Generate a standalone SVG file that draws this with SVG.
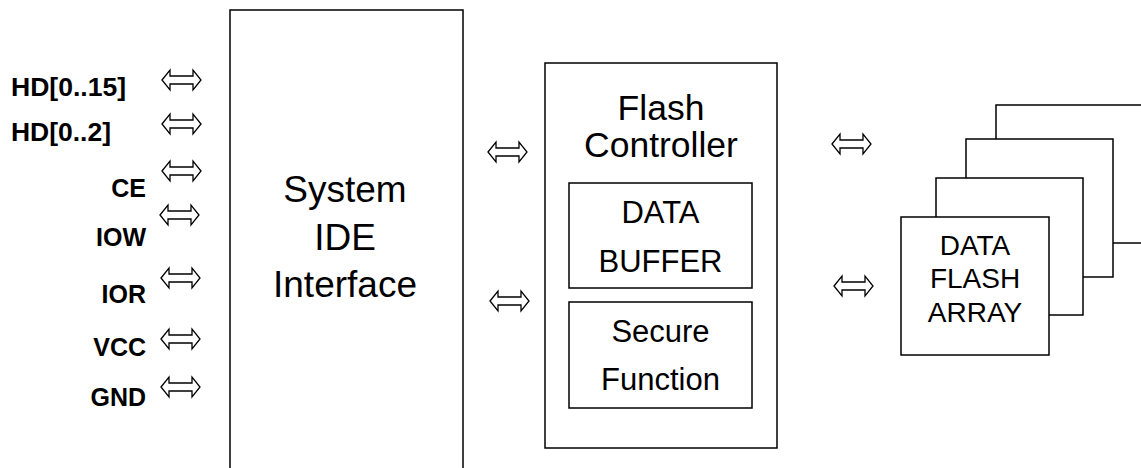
<svg xmlns="http://www.w3.org/2000/svg" xmlns:xlink="http://www.w3.org/1999/xlink" width="1141" height="468" viewBox="0 0 1141 468">
<style>
.box{fill:#fff;stroke:#000;stroke-width:1.5}
.big{font-family:"Liberation Sans",Arial,sans-serif;font-size:37px;fill:#000;text-anchor:middle}
.fc{font-size:35.5px}
.mid{font-family:"Liberation Sans",Arial,sans-serif;font-size:31px;fill:#000;text-anchor:middle}
.sm{font-family:"Liberation Sans",Arial,sans-serif;font-size:28px;fill:#000;text-anchor:middle}
.lbl{font-family:"Liberation Sans",Arial,sans-serif;font-size:25px;font-weight:bold;fill:#000}
.r{text-anchor:end}
.arr{fill:#fff;stroke:#000;stroke-width:1.3;stroke-linejoin:miter}
</style>
<defs>
<path id="dbl" class="arr" d="M0,0 L8,-10 L8,-4 L31,-4 L31,-10 L39,0 L31,10 L31,4 L8,4 L8,10 Z"/>
</defs>
<rect width="1141" height="468" fill="#fff"/>
<g id="ide">
<rect class="box" x="230" y="10" width="233" height="480"/>
<text class="big" x="345" y="202">System</text>
<text class="big" x="345" y="250">IDE</text>
<text class="big" x="345" y="297">Interface</text>
</g>
<g id="signals">
<text class="lbl" x="11" y="96" textLength="115" lengthAdjust="spacingAndGlyphs">HD[0..15]</text>
<text class="lbl" x="11" y="141" textLength="100" lengthAdjust="spacingAndGlyphs">HD[0..2]</text>
<text class="lbl r" x="146" y="197">CE</text>
<text class="lbl r" x="146" y="246">IOW</text>
<text class="lbl r" x="146" y="303">IOR</text>
<text class="lbl r" x="146" y="356">VCC</text>
<text class="lbl r" x="146" y="406">GND</text>
</g>
<g id="controller">
<rect class="box" x="545" y="63" width="232" height="385"/>
<text class="big fc" x="661" y="120">Flash</text>
<text class="big fc" x="661" y="157">Controller</text>
</g>
<g id="buffer">
<rect class="box" x="569" y="183" width="183" height="105"/>
<text class="mid" x="660.5" y="223">DATA</text>
<text class="mid" x="660.5" y="272">BUFFER</text>
</g>
<g id="secure">
<rect class="box" x="569" y="302" width="183" height="106"/>
<text class="mid" x="660.5" y="342">Secure</text>
<text class="mid" x="660.5" y="390">Function</text>
</g>
<g id="flash-array">
<rect class="box" x="996" y="105" width="147" height="138"/>
<rect class="box" x="966" y="139" width="147" height="138"/>
<rect class="box" x="936" y="178" width="147" height="137"/>
<rect class="box" x="901" y="217" width="148" height="138"/>
<text class="sm" x="975" y="255">DATA</text>
<text class="sm" x="975" y="288">FLASH</text>
<text class="sm" x="975" y="322">ARRAY</text>
</g>
<g id="connectors">
<use xlink:href="#dbl" x="162" y="80"/>
<use xlink:href="#dbl" x="162" y="124"/>
<use xlink:href="#dbl" x="162" y="171"/>
<use xlink:href="#dbl" x="160" y="215"/>
<use xlink:href="#dbl" x="161" y="278"/>
<use xlink:href="#dbl" x="161" y="339"/>
<use xlink:href="#dbl" x="161" y="387"/>
<use xlink:href="#dbl" x="488" y="152"/>
<use xlink:href="#dbl" x="490" y="301"/>
<use xlink:href="#dbl" x="832" y="144"/>
<use xlink:href="#dbl" x="834" y="286"/>
</g>
</svg>
